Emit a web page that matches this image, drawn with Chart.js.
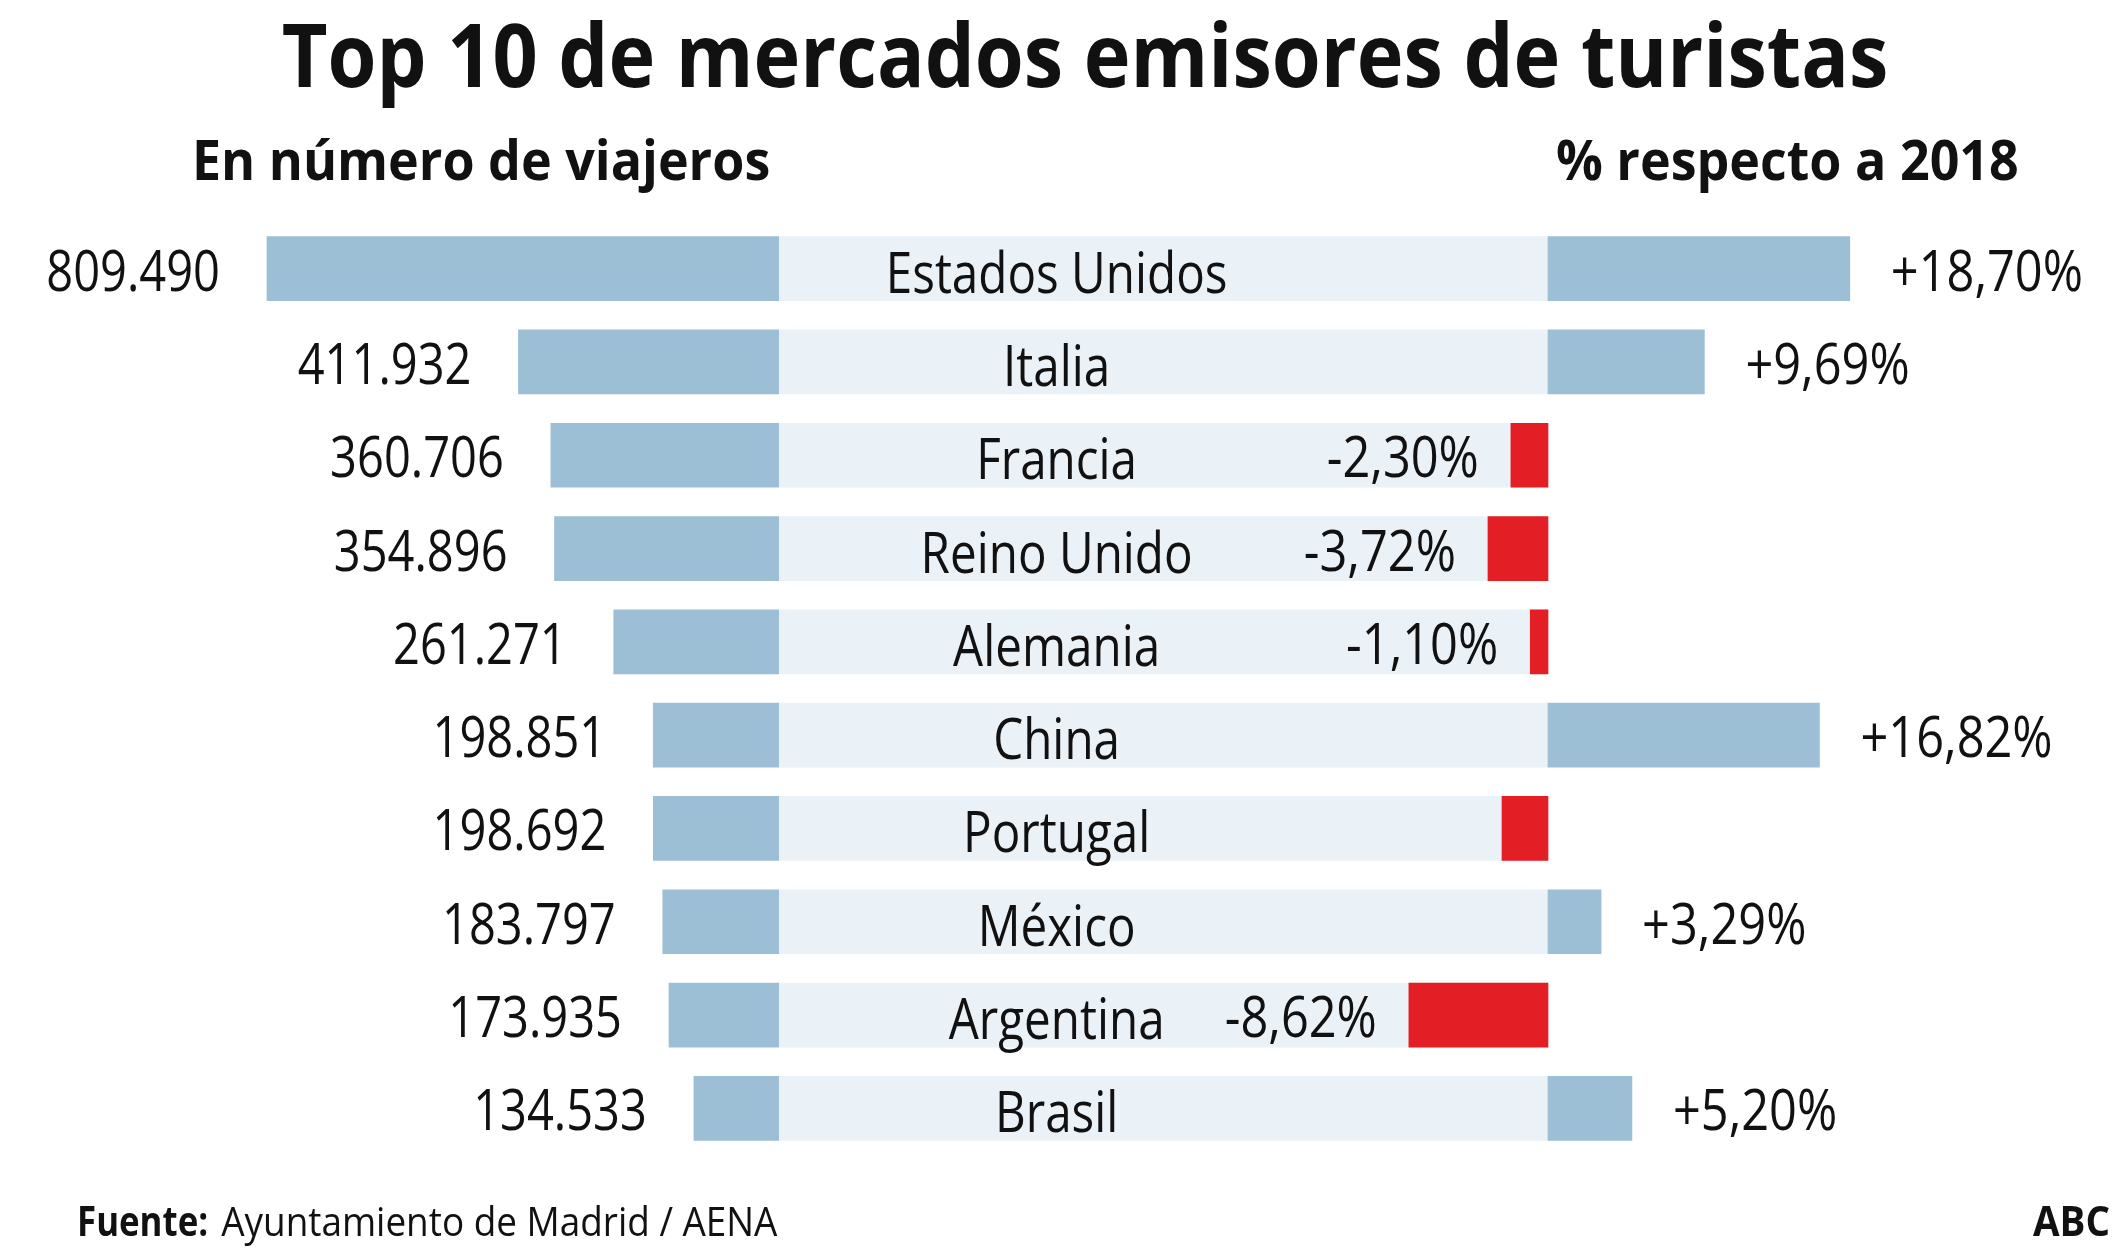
<!DOCTYPE html>
<html lang="es">
<head>
<meta charset="utf-8">
<title>Top 10 de mercados emisores de turistas</title>
<script src="https://cdn.jsdelivr.net/npm/chart.js@4.4.1/dist/chart.umd.min.js"></script>
<style>
  html, body { margin: 0; background: #fff; }
  #wrap { width: 2125px; height: 1251px; }
</style>
</head>
<body>
<div id="wrap"><canvas id="chart"></canvas></div>
<script>
const countries = ["Estados Unidos", "Italia", "Francia", "Reino Unido", "Alemania",
  "China", "Portugal", "México", "Argentina", "Brasil"];
const travellers = [809490, 411932, 360706, 354896, 261271, 198851, 198692, 183797, 173935, 134533];
const change2018 = [18.70, 9.69, -2.30, -3.72, -1.10, 16.82, -2.85, 3.29, -8.62, 5.20];
// Portugal has no printed percentage in the original
const changeLabels = ["+18,70%", "+9,69%", "-2,30%", "-3,72%", "-1,10%",
  "+16,82%", "", "+3,29%", "-8,62%", "+5,20%"];
const band = countries.map(() => 1);

const BLUE = "#9dbfd5";
const LIGHT = "#eaf1f7";
const RED = "#e31e24";
const INK = "#111";

const fmtThousands = (n) => String(n).replace(/\B(?=(\d{3})+(?!\d))/g, ".");

// draw text squeezed horizontally, to get close to the condensed Myriad look
function drawText(ctx, s, x, y, font, align, sx) {
  ctx.save();
  ctx.font = font;
  ctx.fillStyle = INK;
  ctx.textAlign = align;
  ctx.textBaseline = "alphabetic";
  ctx.translate(x, y);
  ctx.scale(sx, 1);
  ctx.fillText(s, 0, 0);
  ctx.restore();
}

const labelFont = '56px "Open Sans"';

const labels = {
  id: "labels",
  afterDatasetsDraw(chart) {
    const ctx = chart.ctx;
    const left = chart.getDatasetMeta(0).data;
    const right = chart.getDatasetMeta(2).data;
    const xM = chart.scales.xM;
    left.forEach((bar, i) => {
      drawText(ctx, fmtThousands(travellers[i]), bar.x - 47, bar.y + 22, labelFont, "right", 0.84);
      drawText(ctx, countries[i], xM.getPixelForValue(0.361), bar.y + 24, labelFont, "center", 0.85);
    });
    right.forEach((bar, i) => {
      if (!changeLabels[i]) return;
      if (change2018[i] >= 0) {
        drawText(ctx, changeLabels[i], bar.x + 41, bar.y + 22, labelFont, "left", 0.87);
      } else {
        drawText(ctx, changeLabels[i], bar.x - 32, bar.y + 22, labelFont, "right", 0.87);
      }
    });
  },
  afterDraw(chart) {
    const ctx = chart.ctx;
    drawText(ctx, "Top 10 de mercados emisores de turistas", 1085, 87, 'bold 87px "Open Sans"', "center", 0.91);
    drawText(ctx, "En número de viajeros", 192, 180, 'bold 55px "Open Sans"', "left", 0.945);
    drawText(ctx, "% respecto a 2018", 1556, 180, 'bold 55px "Open Sans"', "left", 0.945);

    ctx.save();
    ctx.font = 'bold 41px "Open Sans"';
    const w = ctx.measureText("Fuente:").width * 0.85;
    ctx.restore();
    drawText(ctx, "Fuente:", 77, 1236, 'bold 41px "Open Sans"', "left", 0.85);
    drawText(ctx, "Ayuntamiento de Madrid / AENA", 77 + w + 13, 1236, '41px "Open Sans"', "left", 0.9);
    drawText(ctx, "ABC", 2110, 1236, 'bold 41px "Open Sans"', "right", 0.94);
  }
};

const hiddenAxis = {
  type: "linear",
  position: "bottom",
  stack: "cols",
  display: false,
  grid: { display: false }
};

new Chart(document.getElementById("chart"), {
  type: "bar",
  data: {
    labels: countries,
    datasets: [
      {
        label: "Viajeros",
        data: travellers,
        xAxisID: "xL",
        backgroundColor: BLUE,
        order: 1
      },
      {
        label: "Mercado",
        data: band,
        xAxisID: "xM",
        backgroundColor: LIGHT,
        order: 3
      },
      {
        label: "% respecto a 2018",
        data: change2018,
        xAxisID: "xR",
        backgroundColor: (c) => (c.raw < 0 ? RED : BLUE),
        clip: false,
        order: 1
      }
    ]
  },
  options: {
    indexAxis: "y",
    responsive: true,
    maintainAspectRatio: false,
    animation: false,
    layout: { padding: { top: 222, bottom: 96, left: 0, right: 0 } },
    datasets: {
      bar: { grouped: false, barThickness: 64, borderWidth: 0 }
    },
    scales: {
      y: { display: false, grid: { display: false } },
      xL: { ...hiddenAxis, weight: 1, stackWeight: 779, reverse: true, min: 0, max: 1231600 },
      xM: { ...hiddenAxis, weight: 2, stackWeight: 769, min: 0, max: 1 },
      xR: { ...hiddenAxis, weight: 3, stackWeight: 577, min: 0, max: 35.75 }
    },
    plugins: {
      legend: { display: false },
      tooltip: { enabled: false }
    }
  },
  plugins: [labels]
});
</script>
</body>
</html>
